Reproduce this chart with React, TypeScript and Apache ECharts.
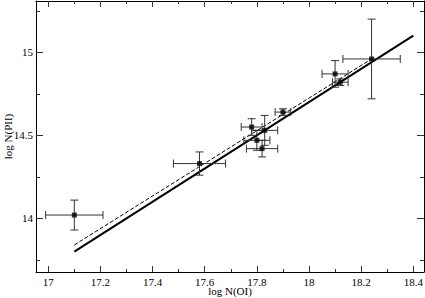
import React, { useEffect, useRef } from "react";
import * as echarts from "echarts";

const oiX = [17.1, 17.58, 17.78, 17.8, 17.83, 17.82, 17.9, 18.1, 18.12, 18.24];
const piiY = [14.02, 14.33, 14.55, 14.47, 14.53, 14.42, 14.64, 14.87, 14.82, 14.96];
const xErr = [0.11, 0.1, 0.04, 0.05, 0.05, 0.06, 0.03, 0.05, 0.03, 0.11];
const yErr = [0.09, 0.07, 0.05, 0.06, 0.09, 0.05, 0.02, 0.08, 0.02, 0.24];

const solidFit = [
  [17.1, 13.8],
  [18.4, 15.1],
];
const dashedFit = [
  [17.1, 13.84],
  [18.24, 14.96],
];

const xMajor = [17, 17.2, 17.4, 17.6, 17.8, 18, 18.2, 18.4];
const xMinor = [17.1, 17.3, 17.5, 17.7, 17.9, 18.1, 18.3];
const yMajor = [14, 14.5, 15];
const yMinor = [13.75, 14.25, 14.75, 15.25];

const X_MIN = 16.953;
const X_MAX = 18.441;
const Y_MIN = 13.677;
const Y_MAX = 15.309;

const FONT = "Liberation Serif";
const TICK = "#333";

export default function App() {
  const ref = useRef<HTMLDivElement>(null);
  useEffect(() => {
    if (!ref.current) return;
    const chart = echarts.init(ref.current, null, { renderer: "svg" });

    const mkX = (pos: "top" | "bottom", vals: number[], len: number, labels: boolean, line: boolean, name?: string) => ({
      type: "value",
      position: pos,
      min: X_MIN,
      max: X_MAX,
      name: name,
      nameLocation: "middle",
      nameGap: 13,
      nameMoveOverlap: false,
      nameTextStyle: { fontFamily: FONT, fontSize: 11, color: "#000" },
      axisLine: { show: line, onZero: false, lineStyle: { color: "#000", width: 1 } },
      axisTick: { show: true, inside: true, length: len, customValues: vals, lineStyle: { color: TICK, width: 1 } },
      axisLabel: labels
        ? { show: true, customValues: vals, margin: 4, fontFamily: FONT, fontSize: 11, color: "#000" }
        : { show: false },
      splitLine: { show: false },
    });
    const mkY = (pos: "left" | "right", vals: number[], len: number, labels: boolean, line: boolean, name?: string) => ({
      type: "value",
      position: pos,
      min: Y_MIN,
      max: Y_MAX,
      name: name,
      nameLocation: "middle",
      nameGap: 23,
      nameMoveOverlap: false,
      nameTextStyle: { fontFamily: FONT, fontSize: 11, color: "#000" },
      axisLine: { show: line, onZero: false, lineStyle: { color: "#000", width: 1 } },
      axisTick: { show: true, inside: true, length: len, customValues: vals, lineStyle: { color: TICK, width: 1 } },
      axisLabel: labels
        ? { show: true, customValues: vals, margin: 3, fontFamily: FONT, fontSize: 11, color: "#000" }
        : { show: false },
      splitLine: { show: false },
    });

    const errData = oiX.map((x, i) => [x, piiY[i], xErr[i], yErr[i]]);

    chart.setOption({
      animation: false,
      backgroundColor: "#fff",
      grid: { left: 36, right: 1, top: 1, bottom: 26, containLabel: false, outerBoundsMode: "none" },
      xAxis: [
        mkX("bottom", xMajor, 6, true, true, "log N(OI)"),
        mkX("bottom", xMinor, 3, false, false),
        mkX("top", xMajor, 6, false, true),
        mkX("top", xMinor, 3, false, false),
      ],
      yAxis: [
        mkY("left", yMajor, 7, true, true, "log N(PII)"),
        mkY("left", yMinor, 4, false, false),
        mkY("right", yMajor, 7, false, true),
        mkY("right", yMinor, 4, false, false),
      ],
      series: [
        {
          type: "line",
          data: solidFit,
          showSymbol: false,
          symbol: "none",
          lineStyle: { color: "#000", width: 2 },
          z: 3,
        },
        {
          type: "line",
          data: dashedFit,
          showSymbol: false,
          symbol: "none",
          lineStyle: { color: "#000", width: 1, type: [4, 2] },
          z: 3,
        },
        {
          type: "custom",
          data: errData,
          z: 4,
          renderItem: (params: any, api: any) => {
            const x = api.value(0);
            const y = api.value(1);
            const ex = api.value(2);
            const ey = api.value(3);
            const l = api.coord([x - ex, y]);
            const r = api.coord([x + ex, y]);
            const t = api.coord([x, y + ey]);
            const b = api.coord([x, y - ey]);
            const cap = 4;
            const style = { stroke: "#333", lineWidth: 1 };
            const ln = (x1: number, y1: number, x2: number, y2: number) => ({
              type: "line",
              shape: { x1, y1, x2, y2 },
              style,
            });
            return {
              type: "group",
              children: [
                ln(l[0], l[1], r[0], r[1]),
                ln(l[0], l[1] - cap, l[0], l[1] + cap),
                ln(r[0], r[1] - cap, r[0], r[1] + cap),
                ln(t[0], t[1], b[0], b[1]),
                ln(t[0] - cap, t[1], t[0] + cap, t[1]),
                ln(b[0] - cap, b[1], b[0] + cap, b[1]),
              ],
            };
          },
        },
        {
          type: "scatter",
          data: oiX.map((x, i) => [x, piiY[i]]),
          symbol: "rect",
          symbolSize: 5,
          itemStyle: { color: "#000" },
          z: 5,
        },
      ],
    });
    return () => chart.dispose();
  }, []);
  return <div ref={ref} style={{ width: 425, height: 298, position: "absolute", left: 0, top: 0 }} />;
}
